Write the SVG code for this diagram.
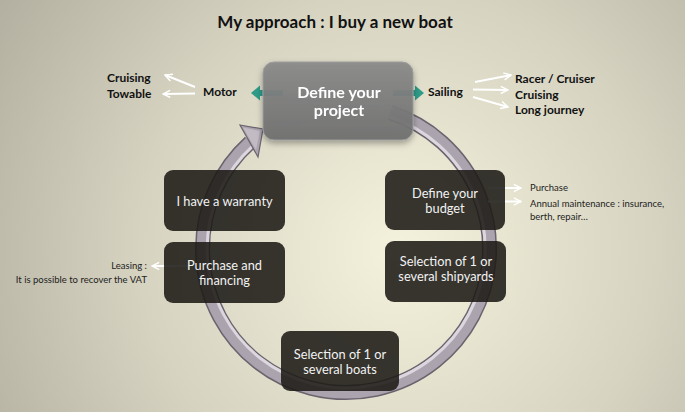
<svg xmlns="http://www.w3.org/2000/svg" width="685" height="412" viewBox="0 0 685 412">
<defs>
  <radialGradient id="bg" cx="400" cy="250" r="470" gradientUnits="userSpaceOnUse">
    <stop offset="0" stop-color="#f4f1dc"/>
    <stop offset="0.55" stop-color="#d6d3c1"/>
    <stop offset="1" stop-color="#b3b0a1"/>
  </radialGradient>
  <linearGradient id="proj" x1="0" y1="0" x2="0" y2="1">
    <stop offset="0" stop-color="#8a8a8a"/>
    <stop offset="1" stop-color="#6f6f6f"/>
  </linearGradient>
  <filter id="shadow" x="-20%" y="-20%" width="140%" height="150%">
    <feDropShadow dx="0" dy="3" stdDeviation="3" flood-color="#000" flood-opacity="0.35"/>
  </filter>
  <marker id="wab" viewBox="0 0 10 10" refX="9" refY="5" markerWidth="9" markerHeight="9" markerUnits="userSpaceOnUse" orient="auto">
    <polyline points="1,1 9,5 1,9" fill="none" stroke="#fff" stroke-width="1.6"/>
  </marker>
  <style>
    .t { font-family: Lato, "Open Sans", "Liberation Sans", sans-serif; }
    .title { font-size: 17px; font-weight: bold; fill: #111; }
    .lab { font-size: 12px; font-weight: bold; fill: #111; }
    .projt { font-size: 16px; font-weight: bold; fill: #fff; }
    .dk { fill: #1c1a16; fill-opacity: 0.88; }
    .dkt { font-size: 12.8px; fill: #f2f2f2; }
    .sm { font-size: 9.5px; fill: #222; }
    .wl { stroke: #fff; stroke-width: 2; fill: none; }
    .teal { stroke: #2e9b88; stroke-width: 6; fill: none; }
  </style>
</defs>
<rect width="685" height="412" fill="url(#bg)"/>

<text class="t title" x="335" y="28" text-anchor="middle">My approach : I buy a new boat</text>

<g id="cycle-ring">
  <path d="M390.3,112.5 A143.5,143.5 0 1 1 250,142.4" fill="none" stroke="#6a636e" stroke-width="15"/>
  <path d="M390.3,112.5 A143.5,143.5 0 1 1 250,142.4" fill="none" stroke="#aba4ae" stroke-width="12"/>
  <path d="M389.2,116.7 A139,139 0 1 1 252.9,145.8" fill="none" stroke="#dcd7de" stroke-width="3"/>
  <polygon points="240,125 263,129 258,157" fill="#aba4ae" stroke="#6a636e" stroke-width="1.2"/>
  <polygon points="243,127.5 260,131 256,150" fill="#c2bbc4"/>
</g>

<g id="connectors">
  <line class="teal" x1="283" y1="93" x2="259" y2="93"/>
  <polygon points="260,85.5 251,93 260,100.5" fill="#2e9b88"/>
  <line class="teal" x1="393" y1="93" x2="416" y2="93"/>
  <polygon points="415,85.5 424,93 415,100.5" fill="#2e9b88"/>
  <line class="wl" x1="195" y1="87" x2="165" y2="75" marker-end="url(#wab)"/>
  <line class="wl" x1="195" y1="93.5" x2="163" y2="94" marker-end="url(#wab)"/>
  <line class="wl" x1="475" y1="82" x2="511" y2="75" marker-end="url(#wab)"/>
  <line class="wl" x1="473" y1="89.5" x2="508" y2="90" marker-end="url(#wab)"/>
  <line class="wl" x1="473" y1="97" x2="508" y2="107" marker-end="url(#wab)"/>
  <line class="wl" x1="488" y1="188" x2="521" y2="188" marker-end="url(#wab)"/>
  <line class="wl" x1="488" y1="201.5" x2="521" y2="201.5" marker-end="url(#wab)"/>
  <line class="wl" x1="188" y1="266" x2="152" y2="266" marker-end="url(#wab)"/>
</g>

<g id="project" filter="url(#shadow)">
  <rect x="263" y="62" width="150" height="78" rx="11" fill="url(#proj)" fill-opacity="0.93" stroke="#9c9c9c" stroke-width="1"/>
  <text class="t projt" x="339" y="98" text-anchor="middle">Define your</text>
  <text class="t projt" x="339" y="116" text-anchor="middle">project</text>
</g>

<g id="motor">
  <text class="t lab" x="203" y="96">Motor</text>
  <text class="t lab" x="107" y="82">Cruising</text>
  <text class="t lab" x="107" y="97.5">Towable</text>
</g>
<g id="sailing">
  <text class="t lab" x="428" y="96">Sailing</text>
  <text class="t lab" x="515" y="82.5">Racer / Cruiser</text>
  <text class="t lab" x="515" y="98.5">Cruising</text>
  <text class="t lab" x="515" y="113.5">Long journey</text>
</g>

<g id="warranty">
  <rect class="dk" x="164" y="170" width="121" height="61" rx="9"/>
  <text class="t dkt" x="224.5" y="206" text-anchor="middle">I have a warranty</text>
</g>
<g id="purchase">
  <rect class="dk" x="164" y="242" width="121" height="61" rx="9"/>
  <text class="t dkt" x="224.5" y="269.5" text-anchor="middle">Purchase and</text>
  <text class="t dkt" x="224.5" y="284.5" text-anchor="middle">financing</text>
</g>
<g id="budget">
  <rect class="dk" x="385" y="170" width="120" height="60" rx="9"/>
  <text class="t dkt" x="445" y="197.5" text-anchor="middle">Define your</text>
  <text class="t dkt" x="445" y="212.5" text-anchor="middle">budget</text>
</g>
<g id="shipyards">
  <rect class="dk" x="385" y="241" width="121" height="61" rx="9"/>
  <text class="t dkt" x="446" y="265.5" text-anchor="middle">Selection of 1 or</text>
  <text class="t dkt" x="446" y="280.5" text-anchor="middle">several shipyards</text>
</g>
<g id="boats">
  <rect class="dk" x="281" y="331" width="118" height="60" rx="9"/>
  <text class="t dkt" x="340" y="359" text-anchor="middle">Selection of 1 or</text>
  <text class="t dkt" x="340" y="374" text-anchor="middle">several boats</text>
</g>

<g id="budget-notes">
  <text class="t sm" x="530" y="190.5">Purchase</text>
  <text class="t sm" x="530" y="206.5">Annual maintenance : insurance,</text>
  <text class="t sm" x="530" y="220">berth, repair…</text>
</g>
<g id="leasing-notes">
  <text class="t sm" x="147" y="269" text-anchor="end">Leasing :</text>
  <text class="t sm" x="147" y="282.5" text-anchor="end">It is possible to recover the VAT</text>
</g>
</svg>
